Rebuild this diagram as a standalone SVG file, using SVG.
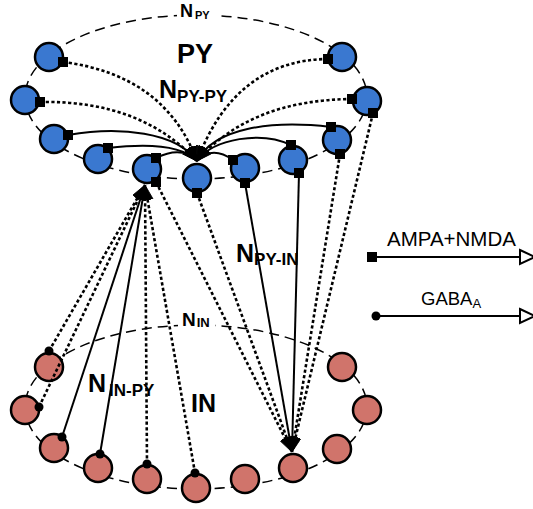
<svg xmlns="http://www.w3.org/2000/svg" width="533" height="509" viewBox="0 0 533 509">
<defs>
<style>
.ell{fill:none;stroke:#000;stroke-width:1.5;stroke-dasharray:10 6}
.sol{fill:none;stroke:#000;stroke-width:2;marker-end:url(#ah)}
.dot{fill:none;stroke:#000;stroke-width:2.6;stroke-dasharray:3.2 2.4;marker-end:url(#ah)}
.py{fill:#3a78d0;stroke:#000;stroke-width:2.5}
.in{fill:#d0746b;stroke:#000;stroke-width:2.5}
.sq{fill:#000}
.lb{font-family:"Liberation Sans",Arial,sans-serif;font-weight:bold;fill:#000}
.lg{font-family:"Liberation Sans",Arial,sans-serif;fill:#000}
</style>
<marker id="ah" markerUnits="userSpaceOnUse" markerWidth="18" markerHeight="12" refX="15" refY="5.5" orient="auto">
<path d="M0,0 L15,5.5 L0,11 z" fill="#000" stroke="#000" stroke-width="0.8" stroke-linejoin="round"/>
</marker>
</defs>
<rect width="533" height="509" fill="#fff"/>

<g id="ellipses">
<ellipse class="ell" cx="196" cy="97" rx="171" ry="82"/>
<ellipse class="ell" cx="196" cy="407" rx="171" ry="82"/>
<rect x="177" y="3" width="39" height="20" fill="#fff"/>
<rect x="178" y="310" width="37" height="20" fill="#fff"/>
</g>

<g id="PY">
<circle id="P1" class="py" cx="49" cy="57" r="14"/>
<circle id="P2" class="py" cx="25" cy="100" r="14"/>
<circle id="P3" class="py" cx="54" cy="139" r="14"/>
<circle id="P4" class="py" cx="98" cy="159" r="14"/>
<circle id="P5" class="py" cx="147" cy="169" r="14"/>
<circle id="P6" class="py" cx="197" cy="178" r="14"/>
<circle id="P7" class="py" cx="245" cy="168" r="14"/>
<circle id="P8" class="py" cx="293" cy="160" r="14"/>
<circle id="P9" class="py" cx="337" cy="140" r="14"/>
<circle id="P10" class="py" cx="367" cy="101" r="14"/>
<circle id="P11" class="py" cx="342" cy="57" r="14"/>
</g>

<g id="IN">
<circle id="I1" class="in" cx="49" cy="367" r="14"/>
<circle id="I2" class="in" cx="25" cy="410" r="14"/>
<circle id="I3" class="in" cx="54" cy="448" r="14"/>
<circle id="I4" class="in" cx="98" cy="468" r="14"/>
<circle id="I5" class="in" cx="147" cy="479" r="14"/>
<circle id="I6" class="in" cx="196" cy="488" r="14"/>
<circle id="I7" class="in" cx="245" cy="479" r="14"/>
<circle id="I8" class="in" cx="293" cy="468" r="14"/>
<circle id="I9" class="in" cx="337" cy="449" r="14"/>
<circle id="I10" class="in" cx="367" cy="410" r="14"/>
<circle id="I11" class="in" cx="342" cy="367" r="14"/>
</g>

<g id="connectors">
<path class="dot" d="M63,62 Q165,75 197,161"/>
<path class="dot" d="M40,102 Q140,100 197,161"/>
<path class="sol" d="M68,135 C120,126 176,132 197,161"/>
<path class="sol" d="M108,148 C150,143 182,145 197,161"/>
<path class="sol" d="M156,158 Q182,145 197,161"/>
<path class="sol" d="M233,160 Q212,145 197,161"/>
<path class="sol" d="M291,145 C262,131 214,138 197,161"/>
<path class="sol" d="M331,127 C270,120 214,128 197,161"/>
<path class="dot" d="M352,99 Q250,100 197,161"/>
<path class="dot" d="M328,59 Q235,60 197,161"/>
<path class="dot" d="M156,182 L292,452"/>
<path class="dot" d="M197,193 L292,452"/>
<path class="sol" d="M245,183 L292,452"/>
<path class="sol" d="M299,173 L292,452"/>
<path class="dot" d="M340,154 L292,452"/>
<path class="dot" d="M373,113 L292,452"/>
<path class="dot" d="M49,351 L145,185"/>
<path class="dot" d="M39,407 L145,185"/>
<path class="sol" d="M62,437 L145,185"/>
<path class="sol" d="M100,454 L145,185"/>
<path class="dot" d="M147,464 L145,185"/>
<path class="dot" d="M195,473 L145,185"/>
</g>

<g id="synapses">
<rect class="sq" x="58" y="57" width="10" height="10"/>
<rect class="sq" x="35" y="97" width="10" height="10"/>
<rect class="sq" x="63" y="130" width="10" height="10"/>
<rect class="sq" x="103" y="143" width="10" height="10"/>
<rect class="sq" x="151" y="153" width="10" height="10"/>
<rect class="sq" x="151" y="177" width="10" height="10"/>
<rect class="sq" x="192" y="188" width="10" height="10"/>
<rect class="sq" x="228" y="155" width="10" height="10"/>
<rect class="sq" x="240" y="178" width="10" height="10"/>
<rect class="sq" x="286" y="140" width="10" height="10"/>
<rect class="sq" x="294" y="168" width="10" height="10"/>
<rect class="sq" x="326" y="122" width="10" height="10"/>
<rect class="sq" x="335" y="149" width="10" height="10"/>
<rect class="sq" x="347" y="94" width="10" height="10"/>
<rect class="sq" x="368" y="108" width="10" height="10"/>
<rect class="sq" x="323" y="54" width="10" height="10"/>
<circle class="sq" cx="49" cy="351" r="4.5"/>
<circle class="sq" cx="39" cy="407" r="4.5"/>
<circle class="sq" cx="62" cy="437" r="4.5"/>
<circle class="sq" cx="100" cy="454" r="4.5"/>
<circle class="sq" cx="147" cy="464" r="4.5"/>
<circle class="sq" cx="195" cy="473" r="4.5"/>
</g>

<g id="labels">
<text class="lb" x="180" y="17" font-size="18">N<tspan font-size="11" dx="2" dy="2">PY</tspan></text>
<text class="lb" x="177" y="63" font-size="27">PY</text>
<text class="lb" x="159" y="98" font-size="25">N<tspan font-size="17" dy="4">PY-PY</tspan></text>
<text class="lb" x="236" y="262" font-size="25">N<tspan font-size="17" dy="3">PY-IN</tspan></text>
<text class="lb" x="182" y="326" font-size="19">N<tspan font-size="13" dx="1" dy="1">IN</tspan></text>
<text class="lb" x="88" y="392" font-size="25">N<tspan font-size="17" dx="3" dy="4">IN-PY</tspan></text>
<text class="lb" x="191" y="412" font-size="25">IN</text>
</g>

<g id="legend">
<text class="lg" x="387" y="246" font-size="20.5">AMPA+NMDA</text>
<rect class="sq" x="367" y="252" width="10" height="10"/>
<line x1="376" y1="257" x2="520" y2="257" stroke="#000" stroke-width="2"/>
<polygon points="520,250 535,257 520,264" fill="#fff" stroke="#000" stroke-width="2"/>
<text class="lg" x="421" y="305" font-size="18.5">GABA<tspan font-size="13" dy="3">A</tspan></text>
<circle class="sq" cx="376" cy="316" r="4.5"/>
<line x1="376" y1="316" x2="520" y2="316" stroke="#000" stroke-width="2"/>
<polygon points="520,309 535,316 520,323" fill="#fff" stroke="#000" stroke-width="2"/>
</g>
</svg>
